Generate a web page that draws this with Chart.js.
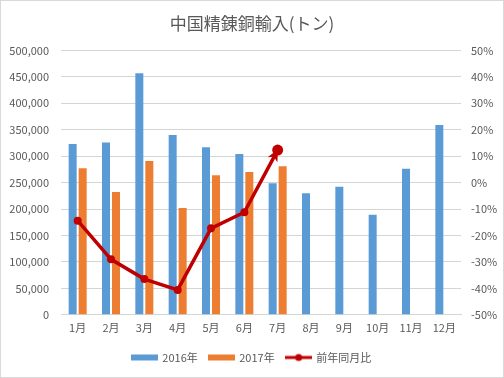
<!DOCTYPE html>
<html><head><meta charset="utf-8">
<script src="https://cdn.jsdelivr.net/npm/chart.js@4"></script>
<style>
html,body{margin:0;padding:0;background:#fff;}
#wrap{position:absolute;left:0;top:0;width:502px;height:376px;border:1px solid #d9d9d9;}
</style></head><body>
<div id="wrap"><canvas id="c" width="502" height="376"></canvas></div>
<script>
const categories = ['1月','2月','3月','4月','5月','6月','7月','8月','9月','10月','11月','12月'];
const imports2016 = [323000,326000,457000,340000,317000,304000,249000,230000,242000,189000,276000,359000];
const imports2017 = [277000,232000,291000,202000,264000,270000,281000,null,null,null,null,null];
const yoyChange = [-0.144,-0.29,-0.365,-0.406,-0.173,-0.112,0.123,null,null,null,null,null];
const titleText = '中国精錬銅輸入(トン)';
const seriesNames = ['2016年','2017年','前年同月比'];

const FONT = "'Noto Sans CJK JP', 'Noto Sans', sans-serif";
const TXT = '#595959';
const GRID = '#d3d7d3';
const RED = '#c00000';

function swatch(kind, color){
  const c = document.createElement('canvas');
  c.width = 27; c.height = 10;
  const g = c.getContext('2d');
  if(kind === 'rect'){ g.fillStyle = color; g.fillRect(0,2,27,6); }
  else { g.strokeStyle = color; g.lineWidth = 3; g.beginPath(); g.moveTo(0,5); g.lineTo(27,5); g.stroke();
         g.fillStyle = color; g.beginPath(); g.arc(13.5,5,3.5,0,Math.PI*2); g.fill(); }
  return c;
}
const swatches = [swatch('rect','#5b9bd5'), swatch('rect','#ed7d31'), swatch('line',RED)];

// arrowhead at the last point of the line series (positions from the library's elements)
const arrowPlugin = {
  id:'arrowEnd',
  afterDatasetsDraw(chart){
    const meta = chart.getDatasetMeta(0);
    const pts = meta.data.filter((p,i)=>yoyChange[i]!==null);
    if(pts.length<2) return;
    const a = pts[pts.length-2], b = pts[pts.length-1];
    const ang = Math.atan2(b.y-a.y, b.x-a.x);
    const g = chart.ctx; g.save(); g.fillStyle = RED;
    const L = 11, W = 5.5, tipX = b.x, tipY = b.y;
    g.beginPath();
    g.moveTo(tipX + Math.cos(ang)*1, tipY + Math.sin(ang)*1);
    g.lineTo(tipX - Math.cos(ang)*L - Math.sin(ang)*W, tipY - Math.sin(ang)*L + Math.cos(ang)*W);
    g.lineTo(tipX - Math.cos(ang)*L*0.7, tipY - Math.sin(ang)*L*0.7);
    g.lineTo(tipX - Math.cos(ang)*L + Math.sin(ang)*W, tipY - Math.sin(ang)*L - Math.cos(ang)*W);
    g.closePath(); g.fill(); g.restore();
  }
};

new Chart(document.getElementById('c'), {
  data: {
    labels: categories,
    datasets: [
      { type:'line', label: seriesNames[2], data: yoyChange, yAxisID:'y1',
        borderColor:RED, backgroundColor:RED, borderWidth:3.5,
        pointRadius:[4,4,4,4,4,4,5.5], pointBackgroundColor:RED, pointBorderWidth:0,
        tension:0, order:0, spanGaps:false },
      { type:'bar', label: seriesNames[0], data: imports2016, yAxisID:'y',
        backgroundColor:'#5b9bd5', categoryPercentage:0.6, barPercentage:0.8, order:1 },
      { type:'bar', label: seriesNames[1], data: imports2017, yAxisID:'y',
        backgroundColor:'#ed7d31', categoryPercentage:0.6, barPercentage:0.8, order:1 }
    ]
  },
  plugins:[arrowPlugin],
  options: {
    responsive:false, animation:false, devicePixelRatio:1,
    layout:{ padding:{ left:0, right:0, top:4, bottom:4 } },
    plugins:{
      title:{ display:true, text:titleText, color:TXT, font:{ family:FONT, size:17, weight:'normal' }, padding:{ top:8, bottom:17 } },
      legend:{ position:'bottom',
        labels:{ color:TXT, font:{ family:FONT, size:11 }, usePointStyle:true, pointStyleWidth:24, padding:12,
          generateLabels(chart){
            const order = [1,2,0];
            return order.map((di,i)=>({ text: chart.data.datasets[di].label, pointStyle: swatches[i],
              fontColor: TXT, hidden:false, datasetIndex: di, lineWidth:0, strokeStyle:'transparent', fillStyle:'transparent' }));
          } } },
      tooltip:{ enabled:false }
    },
    scales:{
      x:{ grid:{ display:false, drawTicks:false }, border:{ color:GRID },
        ticks:{ color:TXT, font:{ family:FONT, size:11 }, padding:6 } },
      y:{ position:'left', min:0, max:500000,
        grid:{ color:GRID, drawTicks:false }, border:{ display:false },
        afterFit(s){ s.width = 60; },
        ticks:{ stepSize:50000, color:TXT, font:{ family:FONT, size:11 }, padding:12,
          callback:v=>v.toLocaleString('en-US') } },
      y1:{ position:'right', min:-0.5, max:0.5,
        grid:{ display:false, drawTicks:false }, border:{ display:false },
        afterFit(s){ s.width = 42; },
        ticks:{ stepSize:0.1, color:TXT, font:{ family:FONT, size:11 }, padding:10,
          callback:v=>Math.round(v*100)+'%' } }
    }
  }
});
</script>
</body></html>
